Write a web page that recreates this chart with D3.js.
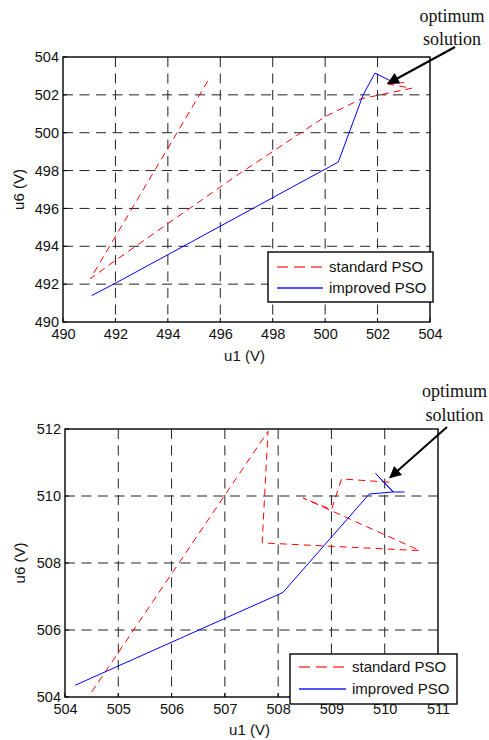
<!doctype html>
<html>
<head>
<meta charset="utf-8">
<script src="https://cdn.jsdelivr.net/npm/d3@7"></script>
<style>
  body { margin: 0; background: #fff; }
</style>
</head>
<body>
<script>
// ---- data ----
// top panel
const topStdU1 = [495.52, 491.05, 492.0, 494.0, 496.8, 500.0, 501.4, 503.3, 502.3, 503.0];
const topStdU6 = [502.73, 492.3, 493.25, 495.2, 497.9, 500.85, 501.8, 502.35, 502.6, 502.65];
const topImpU1 = [491.1, 492.0, 500.5, 501.45, 501.9, 502.55];
const topImpU6 = [491.4, 492.05, 498.45, 502.0, 503.15, 502.7];
const topXTicks = [490, 492, 494, 496, 498, 500, 502, 504];
const topYTicks = [490, 492, 494, 496, 498, 500, 502, 504];

// bottom panel
const botStdU1 = [504.5, 507.81, 507.7, 510.66, 508.47, 509.0, 509.19, 510.09];
const botStdU6 = [504.15, 511.93, 508.6, 508.37, 509.94, 509.59, 510.51, 510.41];
const botImpU1 = [504.19, 508.09, 509.71, 510.16, 509.83, 510.16, 510.37];
const botImpU6 = [504.35, 507.12, 510.06, 510.12, 510.67, 510.12, 510.12];
const botXTicks = [504, 505, 506, 507, 508, 509, 510, 511];
const botYTicks = [504, 506, 508, 510, 512];

const seriesNames = ["standard PSO", "improved PSO"];
const noteLines = ["optimum", "solution"];

const SANS = "'Liberation Sans', Arial, Helvetica, sans-serif";
const SERIF = "'Liberation Serif', 'Times New Roman', serif";

const W = 489, H = 740;
const svg = d3.select("body").append("svg")
  .attr("width", W).attr("height", H);

const defs = svg.append("defs");
defs.append("marker")
  .attr("id", "arrowhead")
  .attr("viewBox", "0 0 10 10")
  .attr("refX", 9).attr("refY", 5)
  .attr("markerWidth", 7.5).attr("markerHeight", 6)
  .attr("markerUnits", "strokeWidth")
  .attr("orient", "auto")
  .append("path")
  .attr("d", "M0,0 L10,5 L0,10 Z")
  .attr("fill", "#000");

function panel(cfg) {
  const x = d3.scaleLinear().domain(cfg.xDomain).range([cfg.left, cfg.right]);
  const y = d3.scaleLinear().domain(cfg.yDomain).range([cfg.bottom, cfg.top]);
  const g = svg.append("g");

  // grid
  g.append("g").selectAll("line")
    .data(cfg.xTicks.slice(1, -1))
    .join("line")
    .attr("x1", d => x(d)).attr("x2", d => x(d))
    .attr("y1", cfg.top).attr("y2", cfg.bottom)
    .attr("stroke", "#222").attr("stroke-width", 1)
    .attr("stroke-dasharray", "10,6.5");
  g.append("g").selectAll("line")
    .data(cfg.yTicks.slice(1, -1))
    .join("line")
    .attr("y1", d => y(d)).attr("y2", d => y(d))
    .attr("x1", cfg.left).attr("x2", cfg.right)
    .attr("stroke", "#222").attr("stroke-width", 1)
    .attr("stroke-dasharray", "10,6.5");

  // tick labels
  const xAxis = g.append("g")
    .attr("transform", `translate(0,${cfg.bottom})`)
    .call(d3.axisBottom(x).tickValues(cfg.xTicks).tickSize(0).tickPadding(7).tickFormat(d3.format("d")));
  const yAxis = g.append("g")
    .attr("transform", `translate(${cfg.left},0)`)
    .call(d3.axisLeft(y).tickValues(cfg.yTicks).tickSize(0).tickPadding(4).tickFormat(d3.format("d")));
  [xAxis, yAxis].forEach(a => {
    a.select(".domain").remove();
    a.attr("font-family", SANS).attr("font-size", 14.5);
    a.selectAll("text").attr("fill", "#111");
  });

  // small inward ticks
  g.append("g").selectAll("line")
    .data(cfg.xTicks)
    .join("line")
    .attr("x1", d => x(d)).attr("x2", d => x(d))
    .attr("y1", cfg.bottom).attr("y2", cfg.bottom - 4)
    .attr("stroke", "#000");
  g.append("g").selectAll("line")
    .data(cfg.yTicks)
    .join("line")
    .attr("y1", d => y(d)).attr("y2", d => y(d))
    .attr("x1", cfg.left).attr("x2", cfg.left + 4)
    .attr("stroke", "#000");

  // frame
  g.append("rect")
    .attr("x", cfg.left).attr("y", cfg.top)
    .attr("width", cfg.right - cfg.left).attr("height", cfg.bottom - cfg.top)
    .attr("fill", "none").attr("stroke", "#000").attr("stroke-width", 1.4);

  const line = d3.line().x(d => x(d[0])).y(d => y(d[1]));
  g.append("path")
    .datum(d3.zip(cfg.stdU1, cfg.stdU6))
    .attr("d", line)
    .attr("fill", "none").attr("stroke", "#ff0000").attr("stroke-width", 1)
    .attr("stroke-dasharray", "7,5");
  g.append("path")
    .datum(d3.zip(cfg.impU1, cfg.impU6))
    .attr("d", line)
    .attr("fill", "none").attr("stroke", "#0000ff").attr("stroke-width", 1);

  // axis titles
  g.append("text")
    .attr("x", (cfg.left + cfg.right) / 2 - 2).attr("y", cfg.xTitleY)
    .attr("text-anchor", "middle")
    .attr("font-family", SANS).attr("font-size", 15).attr("fill", "#111")
    .text("u1 (V)");
  g.append("text")
    .attr("transform", `translate(${cfg.yTitleX},${(cfg.top + cfg.bottom) / 2}) rotate(-90)`)
    .attr("text-anchor", "middle")
    .attr("font-family", SANS).attr("font-size", 15).attr("fill", "#111")
    .text("u6 (V)");

  // legend
  const L = cfg.legend;
  const lg = g.append("g");
  lg.append("rect")
    .attr("x", L.x).attr("y", L.y).attr("width", L.w).attr("height", L.h)
    .attr("fill", "#fff").attr("stroke", "#000").attr("stroke-width", 1.4);
  const legColors = ["#ff4040", "#1a1aff"];
  const legDash = ["11,6", "none"];
  seriesNames.forEach((name, i) => {
    const ry = L.y + L.row0 + i * L.rowGap;
    lg.append("line")
      .attr("x1", L.x + 9).attr("x2", L.x + 9 + L.sample)
      .attr("y1", ry).attr("y2", ry)
      .style("stroke", legColors[i]).style("stroke-width", 1.5)
      .style("stroke-dasharray", legDash[i]);
    lg.append("text")
      .attr("x", L.x + 9 + L.sample + 6).attr("y", ry + 5)
      .attr("font-family", SANS).attr("font-size", 15).attr("fill", "#111")
      .text(name);
  });

  // annotation
  const A = cfg.note;
  noteLines.forEach((t, i) => {
    g.append("text")
      .attr("x", A.tx).attr("y", A.ty + i * 23.5)
      .attr("text-anchor", "middle")
      .attr("font-family", SERIF)
      .attr("font-size", 18).attr("fill", "#111")
      .text(t);
  });
  g.append("line")
    .attr("x1", A.x1).attr("y1", A.y1)
    .attr("x2", x(A.px)).attr("y2", y(A.py))
    .attr("stroke", "#000").attr("stroke-width", 2)
    .attr("marker-end", "url(#arrowhead)");
}

panel({
  xDomain: [490, 504], yDomain: [490, 504],
  left: 63, right: 430, top: 57, bottom: 322,
  xTicks: topXTicks, yTicks: topYTicks,
  stdU1: topStdU1, stdU6: topStdU6, impU1: topImpU1, impU6: topImpU6,
  xTitleY: 361, yTitleX: 24,
  legend: { x: 268, y: 252, w: 165, h: 50, row0: 15, rowGap: 21, sample: 46 },
  note: { tx: 452, ty: 21.5, x1: 455, y1: 47, px: 502.4, py: 502.6 }
});

panel({
  xDomain: [504, 511], yDomain: [504, 512],
  left: 65, right: 438, top: 429, bottom: 697,
  xTicks: botXTicks, yTicks: botYTicks,
  stdU1: botStdU1, stdU6: botStdU6, impU1: botImpU1, impU6: botImpU6,
  xTitleY: 735, yTitleX: 25,
  legend: { x: 290, y: 654, w: 167, h: 50, row0: 13, rowGap: 22, sample: 47 },
  note: { tx: 454.5, ty: 397, x1: 447, y1: 427, px: 510.1, py: 510.55 }
});
</script>
</body>
</html>
